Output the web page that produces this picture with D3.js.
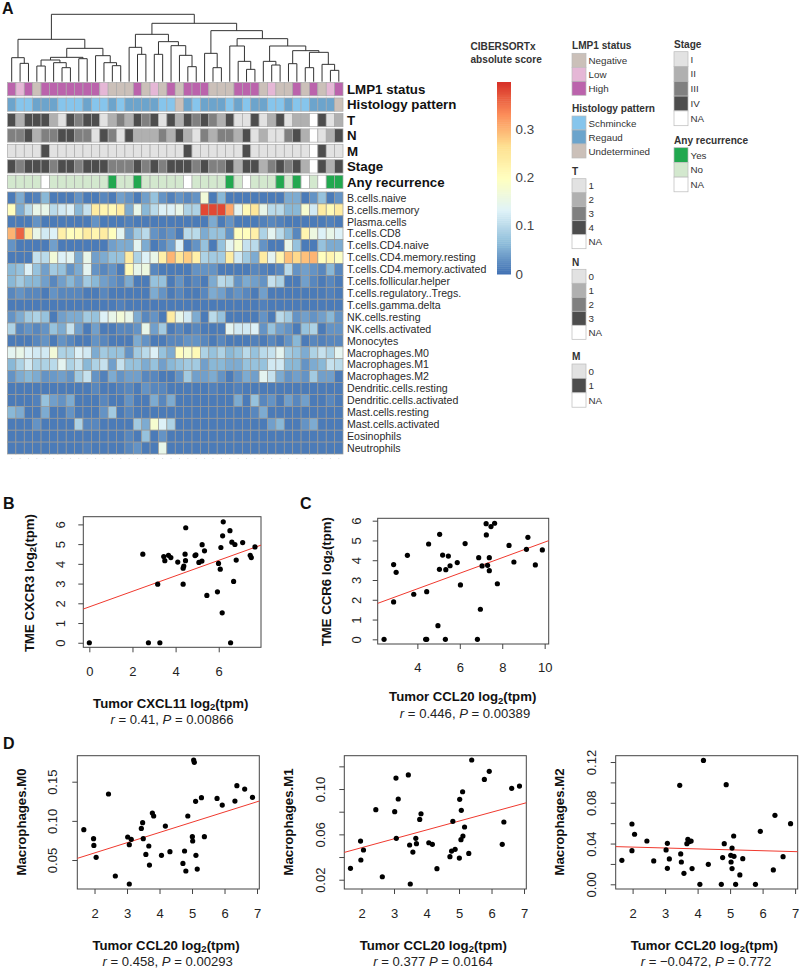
<!DOCTYPE html>
<html lang="en">
<head>
  <meta charset="UTF-8">
  <title>CIBERSORTx heatmap and correlations</title>
  <script src="https://d3js.org/d3.v7.min.js"></script>
  <style>
    body { margin: 0; background: #fff; }
    svg { display: block; }
    text { font-family: "Liberation Sans", Arial, sans-serif; fill: #222; }
    .panel { font-size: 16px; font-weight: bold; fill: #111; }
    .annot { font-size: 13.3px; font-weight: bold; fill: #111; }
    .cell-label { font-size: 10.6px; fill: #2a2a2a; }
    .leg-title { font-size: 10.1px; font-weight: bold; fill: #333; }
    .leg-label { font-size: 9.8px; fill: #333; }
    .axis-title { font-size: 13.2px; font-weight: bold; fill: #111; }
    .stat { font-size: 13.1px; fill: #222; }
    .tick text { font-size: 13px; fill: #222; }
    .tick line, .domain { stroke: #444; }
  </style>
</head>
<body>
  <svg id="chart" width="800" height="971"></svg>

  <script>
    // —— heatmap values, score x 100, one list per cell type ——
    const cellTypes = ["B.cells.naive","B.cells.memory","Plasma.cells","T.cells.CD8","T.cells.CD4.naive",
      "T.cells.CD4.memory.resting","T.cells.CD4.memory.activated","T.cells.follicular.helper",
      "T.cells.regulatory..Tregs.","T.cells.gamma.delta","NK.cells.resting","NK.cells.activated","Monocytes",
      "Macrophages.M0","Macrophages.M1","Macrophages.M2","Dendritic.cells.resting","Dendritic.cells.activated",
      "Mast.cells.resting","Mast.cells.activated","Eosinophils","Neutrophils"];

    const bNaive    = [1,5,1,1.5,6,1,1,1,3,1, 1,2,1,4,3,1,4,7,3,1.5, 3,2,3,17,1,6,1,1,1,1, 1,1,1,5,5,1,3,7,1,3];
    const bMemory   = [20,5,10,15,15,10,12,13,6,11, 24,22,21,24,5,15,6,10,13,13, 15,9,9,38,38,38,31,14,21,25, 15,10,10,6,6,18,12,24,21,24];
    const plasma    = [1,1,1,3,1,1,1,1,1,1, 3,1,1,1,1.5,1,1,1,1,1, 1,1,1,1,5,1,3,1,1,1, 1.5,2,1.5,1,1,1,1,1,1.5,1];
    const cd8       = [30,36,25,15,12,13,23,20,21,24, 22,24,20,14,4,8,10,3,2,3, 1,10,10,5,7,7,3,20,20,23, 9,14,10,6,2,22,16,13,15,13];
    const cd4Naive  = [3,1,1,1,1,4,1,1,1,1, 1,1,4,5,5,14,5,1,2,4, 13,1,3,7,1,7,14,18,11,10, 3,1,1,15,7,1,1,7,5,5];
    const cd4Rest   = [1,1,1,11,10,17,13,14,5,15, 4,5,7,7,24,9,13,15,23,30, 25,28,23,9,8,8,24,12,8,5, 24,14,22,29,27,29,30,20,22,19];
    const cd4Act    = [6,7,13,7,4,8,7,3,5,14, 3,2,3,1,21,15,16,2,1,1, 1,1,3,3,3,1,1,1,1,2, 1.5,1,2,10,3,4,3,2,6,2];
    const tfh       = [6,8,6,6,4,2,4,6,4,8, 6,4,3,2,5,1,1,7,7,1, 3,1,2,1,5,10,9,3,5,4, 3,11,9,1,1,4,2,1,2,1];
    const tregs     = [2,3,2,2,1,3,2,2,2,1, 1,2,1,1,1,1,1,5,3,1, 2,1,1,2,5,4,2,3,2,1, 4,1,1,1,1,1,1,1,1.5,1];
    const gammaD    = [1,1,1,1,1,1,1,1,1,1, 1,1,1,1.5,1,1,1,1,1,1, 1,1,1,1,1,1,1,1,1,1, 1.5,1,1,1,1,1,1,1,1,1];
    const nkRest    = [3,5,8,9,7,1,4,5,5,8, 7,13,15,17,15,5,2,3,1,24, 15,12,5,1,10,7,1,1,1,1, 3,1,10,8,3,4,3,4,6,3];
    const nkAct     = [9,2,3,2,3,7,5,11,4,1, 4,1,1,2,2,3,15,4,8,1, 2,1,2,1,1,1,14,12,12,13, 3,7,4,3,1,7,9,1,3,3];
    const monocytes = [1,1,1,2,3,1,3,2,1,1, 3,2,1,1,1,5,3,1,1,2, 2,3,3,2,1,2,1,1,1,1.5, 1,2,1,3,6,1,2,1.5,2,2];
    const m0        = [14,15,13,12,12,17,9,9,13,12, 5,8,7,7,3,8,10,13,7,5, 20,18,21,9,7,9,6,7,10,7, 10,11,14,8,7,5,9,11,9,14];
    const m1        = [6,9,12,9,9,10,14,9,11,6, 9,11,4,11,7,7,5,7,4,6, 7,8,8,4,6,6,5,5,7,7, 7,12,12,6,6,3,5,6,11,10];
    const m2        = [3,5,6,5,3,3.5,4,3,8,11, 3,1.5,5,3,4,4,2,2,1,1, 3,8,4,4,5,3,1,3,5,4, 14,11,5,3,4,3,8,4,4,1];
    const dcRest    = [1,1,1,1,1,1,1,1,1,1, 2,1,1,1.5,2,1,3,2,2,1, 1,1,1,1,1.5,1,1,1.5,1,1, 1,1,1,1,1,1,1,1,1,1];
    const dcAct     = [1,1,1,1.5,7,4,3,5,1,1, 1,2,1,1,3,1,1,5,2,5, 1,1,1,1,1,1,1,5,1,7, 2,3,1,4,2,4,1,1,2,1];
    const mastRest  = [6,5,1,1,5,1,1,3,1,1, 1,3,8,1,2,1,1,1,1,1, 1,1,1,1,1,1,1,1,1,2, 5,1,1,1,1,1,1,1,1,1];
    const mastAct   = [1,1,1,3,1,1,1,1,9,2, 2,1,1,1,1,8,5,18,13,9, 1,1,1,1,1,1,1,1,1,1, 1,4,6,1,1,3,5,1,1,1];
    const eosino    = [1,1,1,1,1,1,1,1,1,1, 1,1,1,1,2,1,7,1,3,1, 1,1,1,1,1,1,1,1,1,1, 1,1,1,1,1,1,1,1,1,1];
    const neutro    = [1,1,1,1,1,1,1,1,1,1.5, 1,1,1,1,2,3,1,1,15,1, 1,1,1,1,1,1,1,1,1,1, 1,1,1,1,1,1,1,1,1,1];
    const heatRows = [bNaive,bMemory,plasma,cd8,cd4Naive,cd4Rest,cd4Act,tfh,tregs,gammaD,nkRest,nkAct,monocytes,
      m0,m1,m2,dcRest,dcAct,mastRest,mastAct,eosino,neutro];

    // —— annotation tracks, one code per column (x = NA) ——
    const track = s => s.replace(/ /g,"").split("");
    const annotNames = ["LMP1 status","Histology pattern","T","N","M","Stage","Any recurrence"];
    const lmp1Track  = track("HLHNHHHHHH HLNNNHNLNH NHHHNNNHHH NLNNHNHNLH");
    const histTrack  = track("RSSRRRSSSR SSRSRRRRSS URSRRRSRSR RSSRSSRRRU");
    const tTrack     = track("4244421434 4123243414 2434324114 124122x412");
    const nTrack     = track("2231223322 0320311121 3102122130 100231x013");
    const mTrack     = track("0000100000 0000000000 0100000010 000000x100");
    const stageTrack = track("4344434434 4433343434 4434334244 234342x424");
    const recurTrack = track("NNNNxNNNNN NNYNNYNNNN NxNNNNYNxN NNYNYxNxYY");

    const grey = {"1":"#e2e2e2","2":"#b0b0b0","3":"#808080","4":"#4d4d4d",x:"#ffffff"};
    const annotColors = [
      {H:"#bb63ac",L:"#e5b7d6",N:"#cbc0b9"},
      {S:"#86c5ec",R:"#6ca4cc",U:"#cbc0b9"},
      grey, {"0":"#e2e2e2","1":"#b0b0b0","2":"#808080","3":"#4d4d4d",x:"#ffffff"},
      {"0":"#e2e2e2","1":"#4d4d4d",x:"#ffffff"}, grey,
      {Y:"#21a84f",N:"#d3e8ce",x:"#ffffff"}
    ];
    const annotTracks = [lmp1Track,histTrack,tTrack,nTrack,mTrack,stageTrack,recurTrack];

    // —— dendrogram: [height, left, right], a plain number is a leaf column ——
    const dendro = [202,
      [127, [72,0,[55,1,2]],
        [100, [73,[65,[47,3,4],[57,5,[42,6,7]]],[69,8,9]],
              [78,10,[57,11,[48,12,13]]]]],
      [175,
        [142, [103,14,[82,15,16]],
              [120,[82,17,18],[108,19,[79,20,[45,21,22]]]]],
        [153, [85,23,[42,24,25]],
              [129, [107,26,[61,27,[37,28,29]]],
                    [107,[61,30,[50,31,32]],
                         [93,[54,33,34],[88,[42,35,36],[52,37,[34,38,39]]]]]]]]];

    // —— legends ——
    const legends = [
      {title:"LMP1 status", x:572, titleY:49, top:53.3, size:14, labels:["Negative","Low","High"], colors:["#cbc0b9","#e5b7d6","#bb63ac"]},
      {title:"Histology pattern", x:572, titleY:112, top:116, size:14, labels:["Schmincke","Regaud","Undetermined"], colors:["#86c5ec","#6ca4cc","#cbc0b9"]},
      {title:"T", x:572, titleY:175, top:178.7, size:14, labels:["1","2","3","4","NA"], colors:["#e2e2e2","#b0b0b0","#808080","#4d4d4d","#fff"]},
      {title:"N", x:572, titleY:266, top:269.3, size:14, labels:["0","1","2","3","NA"], colors:["#e2e2e2","#b0b0b0","#808080","#4d4d4d","#fff"]},
      {title:"M", x:572, titleY:360, top:364, size:14.4, labels:["0","1","NA"], colors:["#e2e2e2","#4d4d4d","#fff"]},
      {title:"Stage", x:674, titleY:48, top:51.7, size:14.8, labels:["I","II","III","IV","NA"], colors:["#e2e2e2","#b0b0b0","#808080","#4d4d4d","#fff"]},
      {title:"Any recurrence", x:674, titleY:143.7, top:147.7, size:14.7, labels:["Yes","No","NA"], colors:["#21a84f","#d3e8ce","#fff"]}
    ];
    const scoreTicks = [0,0.1,0.2,0.3];

    // —— scatter points ——
    const cxcl11Cxcr3 = [[0,0],[2.74,0],[3.27,0],[6.55,0],[6.16,1.52],[5.45,2.4],[5.94,2.58],[6.69,3.11],[3.17,2.97],[4.35,2.97],[2.48,4.49],[3.45,4.37],[3.5,4.16],[3.67,4.43],[3.78,4.32],[4.1,4.09],[4.35,3.78],[4.38,3.89],[4.44,4.49],[4.46,4.16],[4.47,5.83],[4.9,4.42],[4.94,4.46],[5.08,4.07],[5.22,4.14],[5.23,4.97],[5.34,4.66],[5.99,4.02],[6.07,3.73],[6.1,4.83],[6.18,5.42],[6.21,6.13],[6.52,5.68],[6.61,5.1],[6.75,4.98],[6.81,4.19],[7.11,5.08],[7.46,4.43],[7.51,4.32],[7.68,4.86]];
    const ccl20Ccr6 = [[2.43,0],[4.39,0],[4.44,0],[5.32,0],[6.83,0],[4.97,0.69],[6.97,1.52],[2.88,1.89],[3.83,2.28],[4.44,2.41],[6.03,2.75],[7.77,2.81],[3,3.39],[2.88,3.78],[3.53,4.25],[4.53,4.82],[5.05,5.31],[5.04,3.54],[5.34,3.52],[5.19,4.26],[5.46,4.21],[5.54,3.72],[5.88,3.88],[6.25,4.84],[6.89,4.13],[7.05,3.71],[7.31,3.74],[7.39,4.13],[7.39,3.47],[7.25,5.28],[7.24,5.85],[7.47,5.7],[7.64,5.87],[8.32,4.75],[8.55,3.91],[9.14,4.55],[9.21,5.16],[9.56,3.76],[9.89,4.52]];
    const ccl20M0 = [[1.67,.0887],[1.97,.0772],[1.98,.0687],[2.05,.0534],[2.43,.1343],[2.64,.0296],[3.02,.0794],[3.07,.0696],[3.07,.0194],[3.13,.0764],[3.44,.0904],[3.48,.0977],[3.5,.0772],[3.58,.0572],[3.67,.0679],[3.69,.0436],[3.78,.11],[3.82,.1062],[4.06,.056],[4.18,.0934],[4.32,.0606],[4.72,.0457],[4.77,.0615],[4.81,.036],[4.87,.1062],[5.01,.0798],[5.02,.0743],[5.05,.1777],[5.07,.1747],[5.11,.1249],[5.12,.056],[5.16,.0385],[5.29,.1296],[5.38,.0798],[5.77,.1287],[5.93,.1202],[6.32,.1253],[6.38,.1449],[6.62,.1406],[6.86,.13]];
    const ccl20M1 = [[1.66,.03],[1.97,.0541],[1.98,.0374],[2.06,.0462],[2.44,.0818],[2.64,.0226],[3.02,.08],[3.06,.1097],[3.07,.0565],[3.13,.0912],[3.44,.1124],[3.48,.0506],[3.5,.0162],[3.58,.0444],[3.67,.0565],[3.69,.0518],[3.79,.0732],[3.83,.0782],[4.07,.0526],[4.18,.0512],[4.32,.0297],[4.72,.0403],[4.77,.0453],[4.81,.0715],[4.88,.0468],[5.01,.0391],[5.02,.0909],[5.06,.0553],[5.07,.0812],[5.11,.0976],[5.12,.0585],[5.17,.0665],[5.3,.0432],[5.39,.1256],[5.78,.1085],[5.93,.1156],[6.33,.0512],[6.38,.0709],[6.62,.1006],[6.86,.1026]];
    const ccl20M2 = [[1.67,.0235],[1.98,.0592],[1.98,.033],[2.06,.0491],[2.44,.0425],[2.65,.0229],[3.03,.0337],[3.07,.0402],[3.07,.0157],[3.13,.0249],[3.45,.0971],[3.48,.0298],[3.5,.0219],[3.58,.0108],[3.67,.0399],[3.7,.0441],[3.75,.0419],[3.8,.0425],[3.83,.0154],[4.07,0],[4.18,.1216],[4.33,.0196],[4.73,0],[4.77,.0262],[4.82,.0399],[4.88,.0978],[5.02,.0284],[5.03,.0219],[5.06,.0356],[5.06,.0154],[5.11,.0474],[5.12,.0275],[5.17,0],[5.3,.0092],[5.39,.0252],[5.78,0],[5.93,.052],[6.33,.0141],[6.38,.0677],[6.63,.0271],[6.86,.0595]];

    const svg = d3.select("#chart");

    // —— panel letters ——
    [["A",2,14],["B",3,509],["C",300,509],["D",3,749]].forEach(([t,x,y]) =>
      svg.append("text").attr("class","panel").attr("x",x).attr("y",y).text(t));

    // —— heatmap and tracks ——
    const cols = d3.range(40);
    const xCol = d3.scaleBand().domain(cols).range([7.5,343]);
    const yAnnot = d3.scaleBand().domain(annotNames).range([82.5,188.5]).paddingInner(0.14);
    const yHeat = d3.scaleBand().domain(cellTypes).range([192,454]);
    const maxScore = 0.397;
    const heatColor = d3.scaleLinear()
      .domain(d3.range(7).map(i => i*maxScore/6))
      .range(["#3f6fb2","#91bfdb","#e0f3f8","#ffffbf","#fee090","#fc8d59","#d73027"]);

    annotNames.forEach((name,r) => {
      svg.append("g").selectAll("rect").data(annotTracks[r]).join("rect")
        .attr("x",(d,i)=>xCol(i)).attr("y",yAnnot(name))
        .attr("width",xCol.bandwidth()).attr("height",yAnnot.bandwidth())
        .attr("fill",d=>annotColors[r][d]).attr("stroke","#aaa").attr("stroke-width",0.7);
      svg.append("text").attr("class","annot").attr("x",347)
        .attr("y",yAnnot(name)+yAnnot.bandwidth()/2).attr("dy","0.36em").text(name);
    });

    cellTypes.forEach((name,r) => {
      svg.append("g").selectAll("rect").data(heatRows[r]).join("rect")
        .attr("x",(d,i)=>xCol(i)).attr("y",yHeat(name))
        .attr("width",xCol.bandwidth()).attr("height",yHeat.bandwidth())
        .attr("fill",d=>heatColor(d/100)).attr("stroke","#9c9a94").attr("stroke-width",0.7);
      svg.append("text").attr("class","cell-label").attr("x",347)
        .attr("y",yHeat(name)+yHeat.bandwidth()/2).attr("dy","0.36em").text(name);
    });

    // faint specks where the column names were cut off
    svg.append("g").selectAll("circle").data(cols).join("circle")
      .attr("cx",d=>xCol(d)+xCol.bandwidth()/2).attr("cy",458.5).attr("r",0.6).attr("fill","#ddd");

    // —— dendrogram ——
    const yDendro = d3.scaleLinear().domain([0,202]).range([81.7,14.3]);
    const dendroG = svg.append("g").attr("fill","none").attr("stroke","#333").attr("stroke-width",1);
    function drawNode(node) {
      if (typeof node === "number") return {x:xCol(node)+xCol.bandwidth()/2, y:yDendro(0)};
      const [h,left,right] = node;
      const a = drawNode(left), b = drawNode(right), y = yDendro(h);
      dendroG.append("path").attr("d",`M${a.x},${a.y}V${y}H${b.x}V${b.y}`);
      return {x:(a.x+b.x)/2, y:y};
    }
    drawNode(dendro);

    // —— colour bar ——
    const yScore = d3.scaleLinear().domain([0,maxScore]).range([274,82]);
    svg.append("g").selectAll("rect").data(d3.range(0,100)).join("rect")
      .attr("x",497).attr("width",14)
      .attr("y",d=>yScore((d+1)/100*maxScore))
      .attr("height",d=>yScore(d/100*maxScore)-yScore((d+1)/100*maxScore)+0.5)
      .attr("fill",d=>heatColor((d+0.5)/100*maxScore));
    svg.append("g").selectAll("text").data(scoreTicks).join("text")
      .attr("x",515.5).attr("y",d=>yScore(d)).attr("dy","0.36em")
      .style("font-size","13.4px").style("fill","#444").text(d=>d);
    svg.append("text").attr("class","leg-title").attr("x",470.5).attr("y",50).text("CIBERSORTx");
    svg.append("text").attr("class","leg-title").attr("x",470.5).attr("y",62.5).text("absolute score");

    legends.forEach(lg => {
      const g = svg.append("g");
      g.append("text").attr("class","leg-title").attr("x",lg.x).attr("y",lg.titleY).text(lg.title);
      g.selectAll("rect").data(lg.colors).join("rect")
        .attr("x",lg.x).attr("y",(d,i)=>lg.top+i*lg.size)
        .attr("width",14).attr("height",lg.size)
        .attr("fill",d=>d).attr("stroke","#bbb").attr("stroke-width",0.7);
      g.selectAll("text.leg-label").data(lg.labels).join("text")
        .attr("class","leg-label").attr("x",lg.x+16.5)
        .attr("y",(d,i)=>lg.top+(i+0.5)*lg.size).attr("dy","0.36em").text(d=>d);
    });

    // —— scatter panels ——
    function addRich(sel, parts) {
      parts.forEach(p => {
        const t = sel.append("tspan").text(p.t);
        if (p.i) t.style("font-style","italic");
        if (p.sub) t.attr("dy",2.5).style("font-size","9.5px");
        if (p.up) t.attr("dy",-2.5);
      });
    }
    function log2Title(before, after) {
      return [{t:before+" log"},{t:"2",sub:true},{t:after,up:true}];
    }

    function scatter(p) {
      const x = d3.scaleLinear().domain(p.xDomain).range([p.box[0],p.box[1]]);
      const y = d3.scaleLinear().domain(p.yDomain).range([p.box[3],p.box[2]]);
      const g = svg.append("g");

      const xAxis = g.append("g").attr("transform",`translate(0,${p.box[3]})`)
        .call(d3.axisBottom(x).tickValues(p.xTicks).tickSize(5).tickPadding(p.xPad).tickFormat(d3.format("d")));
      xAxis.select(".domain").remove();

      const yAxis = g.append("g").attr("transform",`translate(${p.box[0]},0)`)
        .call(d3.axisLeft(y).tickValues(p.yTicks).tickSize(5).tickFormat(d => p.yShown.includes(d) ? p.yFormat(d) : ""));
      yAxis.select(".domain").remove();
      yAxis.selectAll(".tick text")
        .attr("x",null).attr("dy",null).attr("text-anchor","middle")
        .attr("transform",`translate(${-p.yOff},0) rotate(-90)`).attr("dominant-baseline","central");

      g.append("rect").attr("x",p.box[0]).attr("y",p.box[2])
        .attr("width",p.box[1]-p.box[0]).attr("height",p.box[3]-p.box[2])
        .attr("fill","none").attr("stroke","#444").attr("stroke-width",1);

      g.append("line")
        .attr("x1",x(p.xDomain[0])).attr("y1",y(p.fit[0]+p.fit[1]*p.xDomain[0]))
        .attr("x2",x(p.xDomain[1])).attr("y2",y(p.fit[0]+p.fit[1]*p.xDomain[1]))
        .attr("stroke","#f0392e").attr("stroke-width",1);

      g.append("g").selectAll("circle").data(p.points).join("circle")
        .attr("cx",d=>x(d[0])).attr("cy",d=>y(d[1])).attr("r",2.6).attr("fill","#000");

      const yt = g.append("text").attr("class","axis-title").attr("text-anchor","middle")
        .attr("transform",`translate(${p.yTitle[0]},${p.yTitle[1]}) rotate(-90)`).attr("dominant-baseline","central");
      addRich(yt,p.yLabel);
      const xt = g.append("text").attr("class","axis-title").attr("text-anchor","middle")
        .attr("x",p.xTitle[0]).attr("y",p.xTitle[1]);
      addRich(xt,p.xLabel);
      const st = g.append("text").attr("class","stat").attr("text-anchor","middle")
        .attr("x",p.stat[0]).attr("y",p.stat[1]);
      addRich(st,p.statParts);
    }

    const dTicks = [2,3,4,5,6,7];
    const f2 = d3.format(".2f"), fd = d3.format("d");

    scatter({points:cxcl11Cxcr3, box:[83.3,261,516.7,647.3], xDomain:[-0.28,7.96], yDomain:[-0.23,6.39],
      xTicks:[0,2,4,6], yTicks:[0,1,2,3,4,5,6], yShown:[0,1,2,3,4,5,6], yFormat:fd, fit:[1.82,0.393],
      xPad:14.5, yOff:23.3, yTitle:[29,583], xTitle:[170.7,707.5], stat:[172,723.5],
      yLabel:log2Title("TME CXCR3","(tpm)"), xLabel:log2Title("Tumor CXCL11","(tpm)"),
      statParts:[{t:"r",i:true},{t:" = 0.41, "},{t:"P",i:true},{t:" = 0.00866"}]});

    scatter({points:ccl20Ccr6, box:[377.7,548.7,518.3,644], xDomain:[2.13,10.19], yDomain:[-0.236,6.12],
      xTicks:[4,6,8,10], yTicks:[0,1,2,3,4,5,6], yShown:[0,1,2,3,4,5,6], yFormat:fd, fit:[0.982,0.3933],
      xPad:13.5, yOff:21.7, yTitle:[325.7,581.7], xTitle:[462.7,701.2], stat:[465,717.5],
      yLabel:log2Title("TME CCR6","(tpm)"), xLabel:log2Title("Tumor CCL20","(tpm)"),
      statParts:[{t:"r",i:true},{t:" = 0.446, "},{t:"P",i:true},{t:" = 0.00389"}]});

    scatter({points:ccl20M0, box:[77.3,259.3,755.7,889], xDomain:[1.47,7.07], yDomain:[.013,.1832],
      xTicks:dTicks, yTicks:[.05,.1,.15], yShown:[.05,.1,.15], yFormat:f2, fit:[.0329,.01307],
      xPad:15, yOff:24.6, yTitle:[20.7,822], xTitle:[166,949.5], stat:[167.7,966],
      yLabel:[{t:"Macrophages.M0"}], xLabel:log2Title("Tumor CCL20","(tpm)"),
      statParts:[{t:"r",i:true},{t:" = 0.458, "},{t:"P",i:true},{t:" = 0.00293"}]});

    scatter({points:ccl20M1, box:[344.3,526.3,755.7,889], xDomain:[1.47,7.07], yDomain:[.0118,.1294],
      xTicks:dTicks, yTicks:[.02,.04,.06,.08,.1,.12], yShown:[.02,.06,.1], yFormat:f2, fit:[.0326,.00782],
      xPad:15, yOff:24.3, yTitle:[288,822], xTitle:[433.3,949.5], stat:[433,966],
      yLabel:[{t:"Macrophages.M1"}], xLabel:log2Title("Tumor CCL20","(tpm)"),
      statParts:[{t:"r",i:true},{t:" = 0.377  "},{t:"P",i:true},{t:" = 0.0164"}]});

    scatter({points:ccl20M2, box:[615.7,797.7,755.7,889], xDomain:[1.48,7.08], yDomain:[-.0046,.1262],
      xTicks:dTicks, yTicks:[0,.02,.04,.06,.08,.1,.12], yShown:[0,.04,.08,.12], yFormat:f2, fit:[.0383,-.00089],
      xPad:15, yOff:24, yTitle:[559.3,822], xTitle:[704.3,949.5], stat:[706,966],
      yLabel:[{t:"Macrophages.M2"}], xLabel:log2Title("Tumor CCL20","(tpm)"),
      statParts:[{t:"r",i:true},{t:" = −0.0472, "},{t:"P",i:true},{t:" = 0.772"}]});
  </script>
</body>
</html>
